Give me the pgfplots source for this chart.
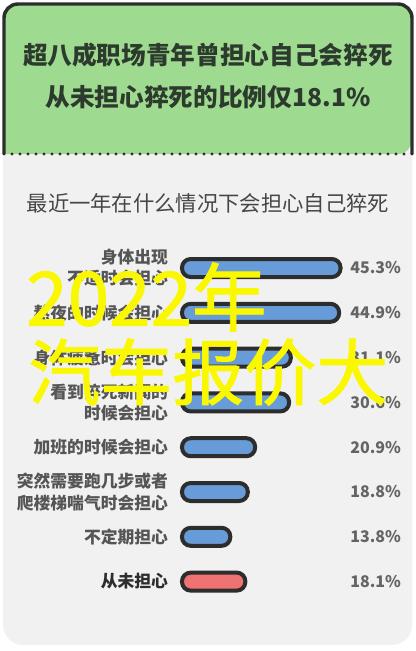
\documentclass[border=0pt]{standalone}
\usepackage{fontspec}
\setmainfont{Noto Sans CJK SC}
\newfontfamily\wmfont{Noto Sans CJK SC}[FakeBold=1.3]
\usepackage{pgfplots}
\usepackage{pgfplotstable}
\pgfplotsset{compat=1.18}
\definecolor{headgreen}{RGB}{158,218,143}
\definecolor{bodygray}{RGB}{241,241,241}
\definecolor{edge}{RGB}{45,45,45}
\definecolor{barblue}{RGB}{104,156,216}
\definecolor{barred}{RGB}{240,115,115}
\definecolor{titletext}{RGB}{45,58,46}
\definecolor{subtext}{RGB}{70,70,70}
\definecolor{labeltext}{RGB}{85,85,85}
\definecolor{valtext}{RGB}{100,100,100}
\definecolor{wmyellow}{RGB}{250,248,0}

% share of young workers by situation (%), rows top to bottom
\pgfplotstableread{
idx val
0 45.3
1 44.9
2 31.1
3 30.6
4 20.9
5 18.8
6 13.8
}\worrytable

\begin{document}
\begin{tikzpicture}
\path[use as bounding box] (0,0) rectangle (312pt,-488.25pt);
% card background, drawn in pixel units (y down)
\begin{scope}[x=0.75pt,y=-0.75pt]
  \fill[bodygray, rounded corners=15pt] (3,140) rectangle (412,645);
  \fill[headgreen, rounded corners=10.5pt] (4,154) -- (4,4) -- (412,4) -- (412,154) [sharp corners] -- cycle;
  \draw[edge, line width=2.6pt, rounded corners=10.5pt] (4,154) -- (4,4) -- (412,4) -- (412,154);
  \draw[edge, line width=2.6pt, line cap=round, dash pattern=on 0pt off 6pt] (4,154) -- (412,154);
  \node[font=\bfseries\fontsize{18.5}{22}\selectfont, text=titletext] at (208,55) {超八成职场青年曾担心自己会猝死};
  \node[font=\bfseries\fontsize{18.5}{22}\selectfont, text=titletext] at (208,97) {从未担心猝死的比例仅18.1\%};
  \node[font=\fontsize{16}{19}\selectfont, text=subtext] at (208,203) {最近一年在什么情况下会担心自己猝死};
\end{scope}

\begin{axis}[
    at={(136.5pt,-184.2pt)}, anchor=north west,
    scale only axis,
    width=131.25pt, height=268.8pt,
    xmin=0, xmax=50,
    ymin=-0.5, ymax=7.5,
    y dir=reverse,
    xbar, bar width=13.5pt, bar shift=0pt,
    axis line style={draw=none},
    tick style={draw=none},
    xtick=\empty,
    ytick={0,...,7},
    yticklabels={{身体出现\\不适时会担心},熬夜的时候会担心,身体疲惫时会担心,{看到猝死新闻的\\时候会担心},加班的时候会担心,{突然需要跑几步或者\\爬楼梯喘气时会担心},不定期担心,{\color{edge}从未担心}},
    yticklabel style={font=\bfseries\fontsize{12.6}{15.8}\selectfont, text=labeltext, align=right, anchor=east, inner sep=0pt, xshift=-6pt},
    clip=false,
    point meta=x,
    visualization depends on={x \as \rawx},
    nodes near coords={\pgfmathprintnumber[fixed,fixed zerofill,precision=1]{\pgfplotspointmeta}\%},
    nodes near coords style={font=\bfseries\fontsize{12}{14}\selectfont, text=valtext, anchor=east, inner sep=0pt, xshift={(50-\rawx)*2.625pt+34.5pt}},
    /pgf/number format/assume math mode=true,
]
\addplot[fill=barblue, draw=edge, line width=3pt, rounded corners=6.5pt] table[x=val, y=idx] {\worrytable};
\addplot[fill=barred, draw=edge, line width=3pt, rounded corners=6.5pt] coordinates {(18.1,7)};
\end{axis}

% overlaid watermark
\begin{scope}[x=0.75pt,y=-0.75pt]
  \node[anchor=west, inner sep=0pt, text=wmyellow, font=\wmfont\fontsize{56}{56}\selectfont] at (26,297) {2022年};
  \node[anchor=west, inner sep=0pt, text=wmyellow, font=\wmfont\fontsize{54}{54}\selectfont] at (28,372) {汽车报价大};
\end{scope}
\end{tikzpicture}
\end{document}
